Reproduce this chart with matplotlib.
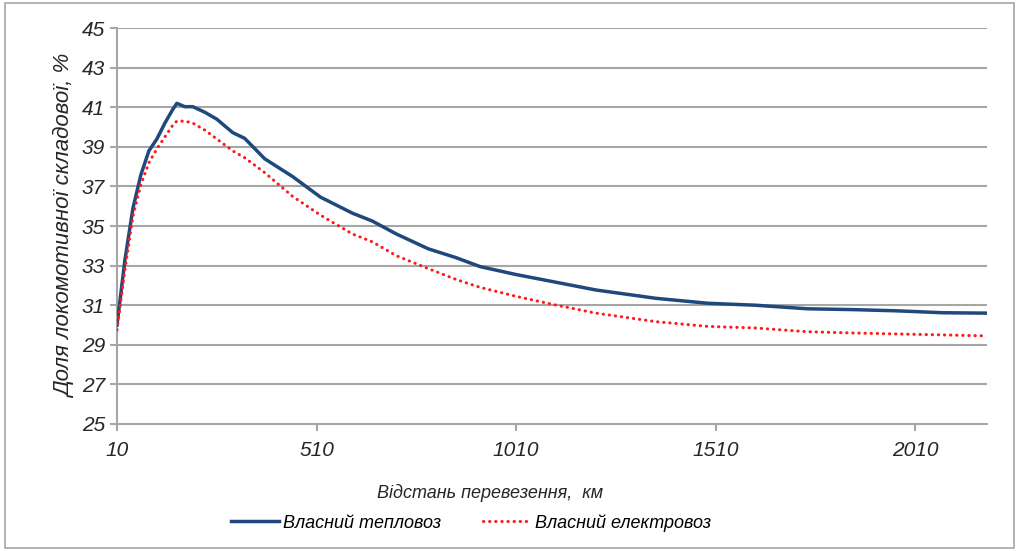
import matplotlib
matplotlib.use("Agg")
import matplotlib.pyplot as plt
from matplotlib.patches import Rectangle

plt.rcParams['font.family'] = ['Liberation Sans', 'DejaVu Sans']
plt.rcParams['font.style'] = 'italic'

# Distance of transportation, km
distance = [10, 30, 50, 70, 90, 110, 130, 150, 160, 180, 200, 230, 260, 300, 330,
            380, 450, 520, 600, 650, 710, 790, 860, 920, 1010, 1100, 1210, 1360,
            1490, 1610, 1740, 1850, 1960, 2080, 2190]

# Share of locomotive component, %
diesel = [30.0, 33.3, 35.9, 37.6, 38.8, 39.4, 40.2, 40.9, 41.2, 41.03, 41.03, 40.75,
          40.4, 39.72, 39.43, 38.4, 37.5, 36.46, 35.65, 35.25, 34.6, 33.85, 33.4,
          32.95, 32.55, 32.2, 31.77, 31.35, 31.1, 31.0, 30.82, 30.78, 30.72, 30.62, 30.6]
electric = [29.75, 32.8, 35.5, 37.1, 38.2, 38.9, 39.5, 40.1, 40.3, 40.3, 40.2, 39.85,
            39.4, 38.8, 38.45, 37.7, 36.5, 35.55, 34.6, 34.2, 33.5, 32.85, 32.3,
            31.9, 31.45, 31.05, 30.6, 30.17, 29.93, 29.85, 29.66, 29.6, 29.55, 29.5, 29.45]

x_ticks = [10, 510, 1010, 1510, 2010]
y_ticks = list(range(25, 46, 2))

fig = plt.figure(figsize=(10.19, 5.51), dpi=100)
ax = fig.add_axes([0.1148, 0.2305, 0.8538, 0.7185])

grid_col = '#a6a6a6'
text_col = '#262626'
for y in y_ticks[1:]:
    ax.axhline(y, color=grid_col, linewidth=1.5, zorder=1)

ax.plot(distance, diesel, color='#1f497d', linewidth=2.5, label='Власний тепловоз', zorder=3)
ax.plot(distance, electric, color='#ff1a1a', linewidth=2.2, linestyle=(0, (0.1, 1.9)),
        dash_capstyle='round', label='Власний електровоз', zorder=3)

ax.set_xlim(10, 2190)
ax.set_ylim(25, 45)
ax.set_xticks(x_ticks)
ax.set_yticks(y_ticks)
ax.tick_params(axis='both', colors=grid_col, labelcolor=text_col, labelsize=15,
               length=5, width=1.5, direction='out')
ax.tick_params(axis='x', pad=7)
for s in ['top', 'right']:
    ax.spines[s].set_visible(False)
for s in ['left', 'bottom']:
    ax.spines[s].set_color(grid_col)
    ax.spines[s].set_linewidth(1.5)

ax.set_ylabel('Доля локомотивної складової, %', fontsize=16, color=text_col, labelpad=4)

# x axis title sits a bit left of the plot centre, as in the source
fig.text(0.481, 0.105, 'Відстань перевезення,  км', fontsize=13, color=text_col,
         ha='center', va='center')

fig.legend(loc='center', bbox_to_anchor=(0.462, 0.051), ncol=2, frameon=False,
           fontsize=13, handlelength=2.7, columnspacing=2.3, handletextpad=0.2)

fig.patches.append(Rectangle((0.005, 0.005), 0.99, 0.99, transform=fig.transFigure,
                             fill=False, edgecolor='#a6a6a6', linewidth=1.2))

fig.savefig('out.png', dpi=100)
